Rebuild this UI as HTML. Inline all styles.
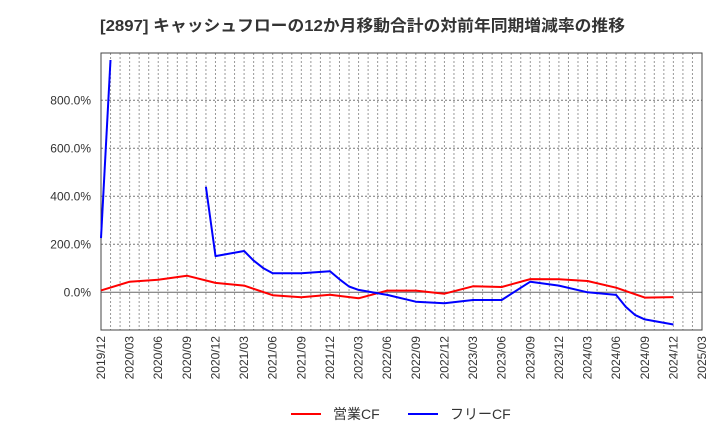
<!DOCTYPE html>
<html><head><meta charset="utf-8"><style>
body{margin:0;background:#fff;font-family:"Liberation Sans","Noto Sans CJK JP",sans-serif;}
svg text{font-family:"Liberation Sans","Noto Sans CJK JP",sans-serif;}
</style></head><body>
<svg id="chart" width="720" height="440" xmlns="http://www.w3.org/2000/svg">
<text x="100" y="31" font-size="16" font-weight="bold" fill="#333" textLength="525" lengthAdjust="spacingAndGlyphs">[2897]  キャッシュフローの12か月移動合計の対前年同期増減率の推移</text>
<g id="grid"></g><g id="axes"></g><g id="series"></g>
<g>
<line x1="291" y1="414" x2="321" y2="414" stroke="#f00" stroke-width="2"/>
<text x="333" y="419" font-size="14" fill="#333">営業CF</text>
<line x1="408" y1="414" x2="438" y2="414" stroke="#00f" stroke-width="2"/>
<text x="450" y="419" font-size="14" fill="#333">フリーCF</text>
</g>
</svg>
<script>
const xTickLabels=["2019/12","2020/03","2020/06","2020/09","2020/12","2021/03","2021/06","2021/09","2021/12","2022/03","2022/06","2022/09","2022/12","2023/03","2023/06","2023/09","2023/12","2024/03","2024/06","2024/09","2024/12","2025/03"];
const yTicks=[0,200,400,600,800];
const opMonths=[0,3,6,9,12,15,18,21,24,27,30,33,36,39,42,45,48,51,54,57,60];
const opValues=[8,44,52,69,39,28,-12,-21,-10,-25,7,7,-6,25,22,55,54,47,19,-22,-20];
const fcfMonths=[0,1,null,11,12,15,16,17,18,21,24,25,26,27,30,33,36,39,42,45,48,51,54,55,56,57,60];
const fcfValues=[226,968,null,440,151,172,132,101,79,79,88,54,24,10,-11,-39,-46,-32,-32,44,28,0,-11,-60,-95,-113,-134];
const L=101,R=702,T=53,B=330,NM=63;
const X=m=>L+(R-L)*m/NM;
const Y=v=>292.3-v*0.24;
const NS="http://www.w3.org/2000/svg";
function mk(p,tag,a){const e=document.createElementNS(NS,tag);for(const k in a)e.setAttribute(k,a[k]);p.appendChild(e);return e;}
const grid=document.getElementById('grid'),axes=document.getElementById('axes'),ser=document.getElementById('series');
for(let m=1;m<NM;m++){const l=mk(grid,'line',{x1:X(m),y1:T,x2:X(m),y2:B,stroke:'#999','stroke-width':1,'stroke-dasharray':'2,2'});

}
yTicks.forEach(v=>{const l=mk(grid,'line',{x1:L,y1:Y(v),x2:R,y2:Y(v),stroke:v===0?'#666':'#777','stroke-width':1,'stroke-dasharray':v===0?'':'2,2'});


const t=mk(axes,'text',{x:91,y:Y(v)+4,'text-anchor':'end','font-size':12,fill:'#333'});t.textContent=v.toFixed(1)+'%';

});
const fr=mk(axes,'rect',{x:L,y:T,width:R-L,height:B-T,fill:'none',stroke:'#444','stroke-width':1});


xTickLabels.forEach((s,i)=>{const x=X(i*3);const t=mk(axes,'text',{x:0,y:0,'text-anchor':'end','font-size':12,fill:'#333',transform:`translate(${x+4},336) rotate(-90)`});t.textContent=s;

});
function draw(ms,vs,color,name){let segs=[],cur=[];ms.forEach((m,i)=>{if(m===null||vs[i]===null){if(cur.length)segs.push(cur);cur=[];}else cur.push(X(m).toFixed(1)+','+Y(vs[i]).toFixed(1));});if(cur.length)segs.push(cur);
segs.forEach(s=>{const p=mk(ser,'polyline',{points:s.join(' '),fill:'none',stroke:color,'stroke-width':2,'stroke-linejoin':'round'});

});}
draw(opMonths,opValues,'#f00','operating-cf-line');
draw(fcfMonths,fcfValues,'#00f','free-cf-line');
</script>
</body></html>
